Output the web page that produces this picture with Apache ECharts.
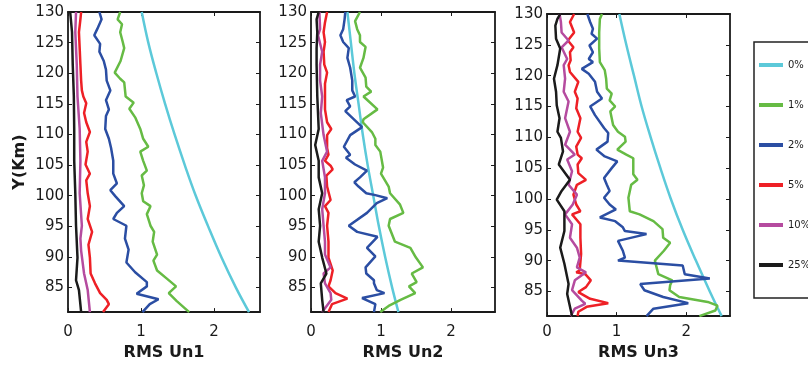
<!DOCTYPE html>
<html>
<head>
<meta charset="utf-8">
<script src="https://cdn.jsdelivr.net/npm/echarts@6/dist/echarts.min.js"></script>
<style>html,body{margin:0;padding:0;background:#fff}#c{width:808px;height:366px}</style>
</head>
<body>
<div id="c"></div>
<script>
// ---- data: pairs of [RMS value, altitude Y (km)] ----
const seriesNames = ['0%', '1%', '2%', '5%', '10%', '25%'];
const panelTitles = ['RMS Un1', 'RMS Un2', 'RMS Un3'];
const xTicks = [0, 1, 2];
const yTicks = [85, 90, 95, 100, 105, 110, 115, 120, 125, 130];

// Panel 1 (RMS Un1)
const un1_0 = [[1.01,130],[1.10,125],[1.21,120],[1.33,115],[1.46,110],[1.60,105],[1.75,100],[1.92,95],[2.10,90],[2.30,85],[2.48,81]];
const un1_1 = [[0.715,130],[0.68,128.8],[0.74,128.0],[0.715,126.7],[0.75,125.1],[0.77,124.1],[0.72,122.0],[0.64,120.1],[0.715,119.1],[0.77,118.5],[0.79,116.2],[0.90,115.2],[0.84,114.2],[0.92,112.8],[0.99,110.9],[1.03,109.3],[1.10,108.0],[0.99,107.2],[1.03,105.7],[1.08,104.1],[1.01,103.3],[1.04,101.7],[1.01,100.4],[1.03,99.1],[1.13,98.3],[1.08,97.0],[1.13,95.1],[1.18,94.1],[1.16,92.5],[1.22,90.4],[1.17,89.4],[1.22,87.8],[1.35,86.5],[1.48,85.2],[1.38,84.1],[1.49,82.8],[1.66,81]];
const un1_2 = [[0.43,130],[0.46,128.8],[0.40,127.2],[0.36,126.2],[0.44,124.8],[0.43,123.5],[0.49,122.0],[0.52,120.6],[0.53,118.8],[0.58,117.2],[0.52,115.6],[0.56,114.1],[0.52,113.0],[0.51,110.9],[0.56,109.3],[0.59,107.8],[0.62,105.7],[0.62,103.6],[0.67,102.0],[0.58,100.9],[0.65,99.9],[0.77,98.3],[0.67,97.2],[0.62,96.2],[0.80,95.1],[0.78,93.0],[0.83,91.2],[0.80,89.1],[0.92,87.5],[1.08,85.9],[1.08,85.2],[0.94,84.0],[1.24,83.1],[1.12,82.3],[1.02,81]];
const un1_5 = [[0.18,130],[0.17,128.8],[0.15,126.7],[0.16,124.1],[0.17,121.4],[0.18,118.8],[0.19,117.2],[0.21,116.2],[0.25,115.1],[0.22,113.5],[0.25,112.0],[0.30,110.4],[0.25,108.8],[0.27,107.2],[0.24,105.1],[0.30,103.6],[0.25,102.5],[0.27,100.4],[0.30,98.3],[0.27,96.2],[0.33,94.1],[0.28,92.0],[0.30,89.9],[0.31,87.3],[0.37,85.7],[0.44,84.1],[0.53,83.0],[0.56,82.3],[0.48,81]];
const un1_10 = [[0.11,130],[0.10,126.7],[0.12,121.4],[0.13,116.2],[0.16,110.9],[0.17,105.7],[0.16,100.4],[0.19,95.1],[0.17,93.0],[0.18,91.0],[0.22,87.3],[0.27,84.6],[0.30,81]];
const un1_25 = [[0.03,130],[0.055,126.7],[0.065,121.4],[0.08,116.2],[0.085,110.9],[0.085,105.7],[0.10,100.4],[0.11,95.1],[0.13,89.9],[0.11,86.2],[0.15,84.6],[0.18,81]];

// Panel 2 (RMS Un2)
const un2_0 = [[0.52,130],[0.57,125],[0.62,120],[0.68,115],[0.74,110],[0.81,105],[0.89,100],[0.97,95],[1.06,90],[1.16,85],[1.25,81]];
const un2_1 = [[0.70,130],[0.63,128.5],[0.66,127.2],[0.70,126.2],[0.70,125.1],[0.78,124.3],[0.75,122.5],[0.70,120.9],[0.78,119.3],[0.79,117.8],[0.86,117.0],[0.75,116.2],[0.95,114.1],[0.75,112.5],[0.74,112.0],[0.87,110.4],[0.92,109.3],[0.92,108.3],[0.99,107.2],[1.03,104.6],[1.00,103.6],[1.11,101.5],[1.13,100.4],[1.27,98.6],[1.32,97.2],[1.13,96.2],[1.11,95.1],[1.20,92.5],[1.42,91.5],[1.50,89.9],[1.60,88.3],[1.44,87.3],[1.51,85.9],[1.40,85.2],[1.49,84.1],[1.28,83.0],[1.11,82.0],[0.99,81]];
const un2_2 = [[0.49,130],[0.48,128.8],[0.46,127.2],[0.42,126.2],[0.46,125.1],[0.54,124.1],[0.52,122.5],[0.56,120.9],[0.59,118.8],[0.59,117.2],[0.63,116.2],[0.51,115.6],[0.56,114.6],[0.49,113.8],[0.61,112.5],[0.73,111.2],[0.56,109.9],[0.47,108.0],[0.56,106.7],[0.50,106.2],[0.63,105.1],[0.80,104.1],[0.70,103.0],[0.62,102.2],[0.68,101.5],[0.79,100.4],[0.92,100.1],[1.09,99.6],[0.94,98.8],[0.80,97.2],[0.54,95.1],[0.66,94.1],[0.95,93.3],[0.80,91.5],[0.92,90.1],[0.78,88.3],[0.79,87.3],[0.90,86.2],[0.90,85.7],[0.94,84.6],[1.05,84.1],[0.73,83.3],[0.71,83.0],[0.92,82.3],[0.90,81]];
const un2_5 = [[0.23,130],[0.20,128.3],[0.18,126.7],[0.20,125.1],[0.18,123.5],[0.19,121.4],[0.23,120.1],[0.20,118.3],[0.20,116.2],[0.20,114.1],[0.23,112.0],[0.29,110.9],[0.23,109.9],[0.23,107.8],[0.25,106.7],[0.20,105.7],[0.28,104.9],[0.31,104.3],[0.22,103.3],[0.23,101.5],[0.28,99.3],[0.20,98.3],[0.25,97.2],[0.23,95.1],[0.25,92.5],[0.25,89.9],[0.31,87.8],[0.28,86.2],[0.25,85.2],[0.35,84.1],[0.52,83.2],[0.30,82.3],[0.25,81]];
const un2_10 = [[0.12,130],[0.13,127.2],[0.10,126.2],[0.16,123.5],[0.13,121.4],[0.13,118.8],[0.16,116.2],[0.14,113.5],[0.18,109.9],[0.23,107.2],[0.16,105.7],[0.20,103.0],[0.20,100.4],[0.16,97.8],[0.18,95.1],[0.20,92.5],[0.20,90.4],[0.28,88.3],[0.18,87.3],[0.20,85.7],[0.28,84.1],[0.29,83.0],[0.16,81]];
const un2_25 = [[0.11,130],[0.08,128.8],[0.09,126.7],[0.08,124.1],[0.08,121.4],[0.09,116.2],[0.11,110.9],[0.06,108.3],[0.11,105.7],[0.11,103.0],[0.16,100.4],[0.11,97.8],[0.13,95.1],[0.11,92.5],[0.16,89.9],[0.22,87.3],[0.14,85.7],[0.16,83.0],[0.18,81]];

// Panel 3 (RMS Un3)
const un3_0 = [[1.04,130],[1.14,125],[1.25,120],[1.36,115],[1.49,110],[1.63,105],[1.78,100],[1.95,95],[2.14,90],[2.34,85],[2.51,81]];
const un3_1 = [[0.79,130],[0.76,129.2],[0.75,127.0],[0.75,124.4],[0.76,122.2],[0.83,120.9],[0.85,119.5],[0.86,117.9],[0.93,117.1],[0.90,116.0],[0.98,115.0],[0.91,114.2],[0.95,112.0],[1.02,110.9],[1.12,110.1],[1.13,109.3],[1.01,108.0],[1.14,107.2],[1.24,106.6],[1.24,104.0],[1.30,103.1],[1.21,102.3],[1.17,100.2],[1.19,98.0],[1.33,97.5],[1.53,96.4],[1.66,95.1],[1.67,93.7],[1.77,92.9],[1.68,91.6],[1.55,90.0],[1.60,87.8],[1.80,86.8],[1.77,86.0],[1.76,85.2],[1.90,84.1],[2.31,83.3],[2.45,82.7],[2.42,81.9],[2.19,81]];
const un3_2 = [[0.58,130],[0.62,128.7],[0.66,127.6],[0.64,126.8],[0.72,126.0],[0.61,124.9],[0.66,123.8],[0.60,122.7],[0.66,122.2],[0.50,121.1],[0.60,120.3],[0.69,119.0],[0.72,117.4],[0.79,116.3],[0.62,115.0],[0.69,113.6],[0.82,111.5],[0.88,110.7],[0.87,109.3],[0.71,108.0],[0.83,106.9],[1.01,106.1],[0.93,105.0],[0.82,103.4],[0.86,102.3],[0.90,101.3],[0.82,100.2],[0.90,99.1],[0.99,98.3],[0.76,97.0],[0.98,96.4],[1.09,95.4],[1.12,94.8],[1.43,94.3],[1.02,93.2],[1.09,91.6],[1.12,90.5],[1.02,90.0],[1.95,89.2],[1.98,87.8],[2.34,87.1],[1.34,86.2],[1.40,85.2],[1.67,84.1],[2.03,83.1],[1.53,82.2],[1.43,81]];
const un3_5 = [[0.39,130],[0.33,128.7],[0.39,127.0],[0.30,125.7],[0.38,124.6],[0.33,123.8],[0.34,122.5],[0.31,121.7],[0.33,120.6],[0.45,119.0],[0.40,117.4],[0.44,116.3],[0.42,114.7],[0.48,113.1],[0.44,110.9],[0.49,109.9],[0.42,108.5],[0.44,107.2],[0.50,106.6],[0.44,105.6],[0.45,104.2],[0.56,103.1],[0.43,102.3],[0.38,100.7],[0.42,99.1],[0.48,98.0],[0.36,97.5],[0.48,95.9],[0.48,93.7],[0.49,91.1],[0.47,88.4],[0.42,88.1],[0.55,87.8],[0.63,86.8],[0.56,85.7],[0.45,84.9],[0.62,83.8],[0.88,83.1],[0.57,82.5],[0.45,81.7],[0.44,81]];
const un3_10 = [[0.18,130],[0.20,128.7],[0.21,127.0],[0.31,125.7],[0.21,124.6],[0.29,122.7],[0.24,121.7],[0.26,119.5],[0.24,117.4],[0.31,115.8],[0.26,113.1],[0.33,110.9],[0.26,108.8],[0.40,107.2],[0.29,106.4],[0.36,104.5],[0.31,102.3],[0.43,100.7],[0.37,99.1],[0.26,97.5],[0.36,95.9],[0.33,93.7],[0.43,92.1],[0.47,90.5],[0.43,88.9],[0.56,88.1],[0.40,86.8],[0.36,85.2],[0.50,83.5],[0.55,83.0],[0.40,82.2],[0.34,81]];
const un3_25 = [[0.19,130],[0.15,129.2],[0.12,128.1],[0.13,126.0],[0.19,124.4],[0.15,121.7],[0.10,119.5],[0.13,117.4],[0.14,115.2],[0.18,113.1],[0.15,110.9],[0.20,109.9],[0.23,107.7],[0.17,105.6],[0.33,103.1],[0.21,101.3],[0.14,99.9],[0.25,98.0],[0.25,94.8],[0.19,92.1],[0.25,89.5],[0.31,86.2],[0.29,84.6],[0.36,81]];

const panelData = [
  [un1_0, un1_1, un1_2, un1_5, un1_10, un1_25],
  [un2_0, un2_1, un2_2, un2_5, un2_10, un2_25],
  [un3_0, un3_1, un3_2, un3_5, un3_10, un3_25]
];

// ---- styling / layout ----
const colors = ['#5cc9d9', '#66bb44', '#2b4ea3', '#ee2026', '#b54b9f', '#1b1b1b'];
const FONT = 'DejaVu Sans';
const grids = [
  {left: 68, top: 12, width: 192, height: 310},
  {left: 311, top: 12, width: 184, height: 310},
  {left: 547, top: 14, width: 183, height: 304}
];
const xLabelMargin = [13, 13, 9];
const xNameGap = [22, 22, 24];
const lineCol = '#1a1a1a';
const textCol = '#1a1a1a';

const xAxes = [], yAxes = [], series = [];
grids.forEach((g, i) => {
  const base = {
    type: 'value', gridIndex: i, splitLine: {show: false},
    axisLine: {show: true, onZero: false, lineStyle: {color: lineCol, width: 1.8}},
  };
  xAxes.push(Object.assign({}, base, {
    position: 'bottom', min: 0, max: 2.63,
    axisTick: {show: true, inside: true, length: 4, customValues: xTicks, lineStyle: {color: lineCol, width: 1}},
    axisLabel: {show: true, customValues: xTicks, fontFamily: FONT, fontSize: 15, color: textCol, margin: xLabelMargin[i]},
    name: panelTitles[i], nameLocation: 'middle', nameGap: xNameGap[i],
    nameTextStyle: {fontFamily: FONT, fontSize: 16, fontWeight: 'bold', color: textCol}
  }));
  xAxes.push(Object.assign({}, base, {
    position: 'top', min: 0, max: 2.63,
    axisTick: {show: true, inside: true, length: 4, customValues: xTicks, lineStyle: {color: lineCol, width: 1}},
    axisLabel: {show: false}
  }));
  yAxes.push(Object.assign({}, base, {
    position: 'left', min: 81, max: 130,
    axisTick: {show: true, inside: true, length: 4, customValues: yTicks, lineStyle: {color: lineCol, width: 1}},
    axisLabel: {show: true, customValues: yTicks, fontFamily: FONT, fontSize: 15, color: textCol, margin: 4},
    name: i === 0 ? 'Y(Km)' : '', nameLocation: 'middle', nameGap: 40,
    nameTextStyle: {fontFamily: FONT, fontSize: 16, fontWeight: 'bold', color: textCol}
  }));
  yAxes.push(Object.assign({}, base, {
    position: 'right', min: 81, max: 130,
    axisTick: {show: true, inside: true, length: 4, customValues: yTicks, lineStyle: {color: lineCol, width: 1}},
    axisLabel: {show: false}
  }));
  panelData[i].forEach((d, k) => {
    series.push({
      type: 'line', name: seriesNames[k], data: d,
      xAxisIndex: i * 2, yAxisIndex: i * 2,
      showSymbol: false, symbol: 'none', smooth: k === 0 ? 0.4 : false,
      clip: true, animation: false,
      lineStyle: {color: colors[k], width: 2.5},
      itemStyle: {color: colors[k]},
      z: 2 + k
    });
  });
});

const chart = echarts.init(document.getElementById('c'), null, {renderer: 'canvas'});
chart.setOption({
  animation: false,
  backgroundColor: '#fff',
  color: colors,
  grid: grids,
  xAxis: xAxes,
  yAxis: yAxes,
  legend: {
    data: seriesNames, orient: 'vertical', left: 754, top: 42,
    icon: 'rect', itemWidth: 24, itemHeight: 4, itemGap: 28,
    padding: [17, 40, 27, 5],
    borderColor: '#222', borderWidth: 1.5,
    textStyle: {fontFamily: FONT, fontSize: 10, color: textCol, lineHeight: 12},
    selectedMode: false
  },
  series: series
});
</script>
</body>
</html>
